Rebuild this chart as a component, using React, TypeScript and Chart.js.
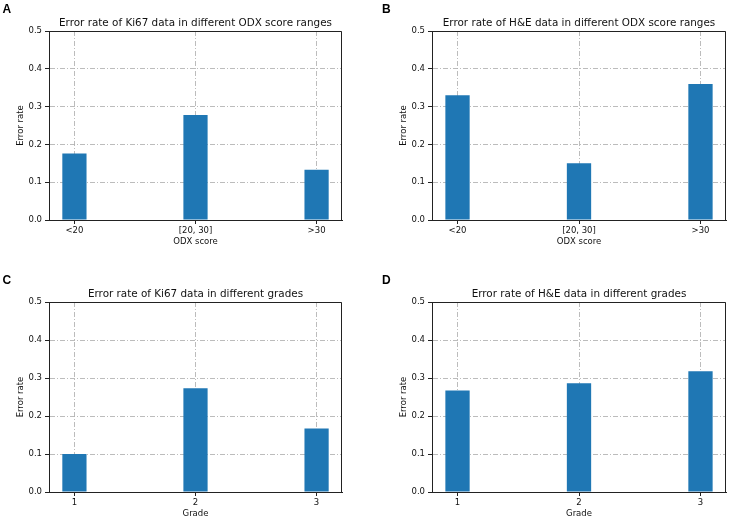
import React, { useEffect, useRef } from "react";
import { Chart, registerables } from "chart.js";

Chart.register(...registerables);

// ---- data ----
const odxCategories = ["<20", "[20, 30]", ">30"];
const gradeCategories = ["1", "2", "3"];
const ki67OdxErrorRates = [0.176, 0.278, 0.133];
const heOdxErrorRates = [0.33, 0.15, 0.36];
const ki67GradeErrorRates = [0.1, 0.273, 0.167];
const heGradeErrorRates = [0.267, 0.286, 0.318];
const yTickValues = [0, 0.1, 0.2, 0.3, 0.4, 0.5];

const FONT = "DejaVu Sans";
const BAR_COLOR = "#1f77b4";
const GRID_COLOR = "rgba(176,176,176,0.85)";
const AXIS_COLOR = "#222";
const TEXT_COLOR = "#111";

type PanelDef = {
  label: string;
  title: string;
  xTitle: string;
  categories: string[];
  values: number[];
  left: number;
  top: number;
  padLeft: number;
  padRight: number;
  padBottom: number;
  padTop: number;
};

const panels: PanelDef[] = [
  { label: "A", title: "Error rate of Ki67 data in different ODX score ranges", xTitle: "ODX score", categories: odxCategories, values: ki67OdxErrorRates, left: 0, top: 0, padLeft: 0, padRight: 23, padBottom: 12, padTop: 31 },
  { label: "B", title: "Error rate of H&E data in different ODX score ranges", xTitle: "ODX score", categories: odxCategories, values: heOdxErrorRates, left: 365, top: 0, padLeft: 18, padRight: 4, padBottom: 12, padTop: 31 },
  { label: "C", title: "Error rate of Ki67 data in different grades", xTitle: "Grade", categories: gradeCategories, values: ki67GradeErrorRates, left: 0, top: 260, padLeft: 0, padRight: 23, padBottom: 0, padTop: 42 },
  { label: "D", title: "Error rate of H&E data in different grades", xTitle: "Grade", categories: gradeCategories, values: heGradeErrorRates, left: 365, top: 260, padLeft: 18, padRight: 4, padBottom: 0, padTop: 42 },
];

const framePlugin = {
  id: "frame",
  afterDraw(chart: any, _args: any, opts: any) {
    const { ctx, chartArea } = chart;
    const t = Math.round(chartArea.top) + 0.5;
    const r = Math.round(chartArea.right) - 0.5;
    const b = Math.round(chartArea.bottom);
    ctx.save();
    ctx.strokeStyle = AXIS_COLOR;
    ctx.lineWidth = 1;
    ctx.beginPath();
    ctx.moveTo(Math.round(chartArea.left), t);
    ctx.lineTo(r, t);
    ctx.lineTo(r, b);
    ctx.stroke();
    // axes title centred over the plot area
    if (opts && opts.text) {
      ctx.fillStyle = TEXT_COLOR;
      ctx.font = `normal 10.4px "${FONT}"`;
      ctx.textAlign = "center";
      ctx.textBaseline = "alphabetic";
      ctx.fillText(opts.text, (chartArea.left + chartArea.right) / 2, chartArea.top - 5.5);
    }
    ctx.restore();
  },
};

function Panel({ p }: { p: PanelDef }) {
  const ref = useRef<HTMLCanvasElement | null>(null);
  useEffect(() => {
    if (!ref.current) return;
    const font = { family: FONT, size: 8.5 };
    const n = p.categories.length;
    const chart = new Chart(ref.current, {
      type: "bar",
      data: {
        datasets: [
          {
            data: p.values.map((v, i) => ({ x: i, y: v })),
            backgroundColor: BAR_COLOR,
            borderWidth: 0,
            barPercentage: 0.2,
            categoryPercentage: 1,
          },
        ],
      },
      options: {
        animation: false,
        responsive: false,
        devicePixelRatio: 1,
        layout: { padding: { left: p.padLeft, right: p.padRight, top: p.padTop, bottom: p.padBottom } },
        plugins: {
          legend: { display: false },
          tooltip: { enabled: false },
          title: { display: false },
          frame: { text: p.title },
        },
        scales: {
          x: {
            type: "linear",
            min: -0.21,
            max: n - 1 + 0.21,
            offset: false,
            z: 1,
            afterBuildTicks: (s: any) => {
              s.ticks = p.categories.map((_, i) => ({ value: i }));
            },
            afterFit: (s: any) => {
              s.height = 28;
            },
            ticks: {
              callback: (v: any) => p.categories[Math.round(v)] ?? "",
              color: TEXT_COLOR,
              font,
              padding: 2,
              maxRotation: 0,
              autoSkip: false,
            },
            grid: { offset: false, color: GRID_COLOR, lineWidth: 1, tickLength: 4, tickColor: AXIS_COLOR, tickWidth: 1, tickBorderDash: [] },
            border: { color: AXIS_COLOR, width: 1, dash: [5, 2, 1, 2] },
            title: { display: true, text: p.xTitle, color: TEXT_COLOR, font, padding: { top: 0, bottom: 1.5 } },
          },
          y: {
            min: 0,
            max: 0.5,
            z: 1,
            afterBuildTicks: (s: any) => {
              s.ticks = yTickValues.map((v) => ({ value: v }));
            },
            afterFit: (s: any) => {
              s.width = 49;
            },
            ticks: {
              callback: (v: any) => Number(v).toFixed(1),
              color: TEXT_COLOR,
              font,
              padding: 3,
            },
            grid: { color: GRID_COLOR, lineWidth: 1, tickLength: 4, tickColor: AXIS_COLOR, tickWidth: 1, tickBorderDash: [] },
            border: { color: AXIS_COLOR, width: 1, dash: [5, 2, 1, 2] },
            title: { display: true, text: "Error rate", color: TEXT_COLOR, font, padding: { top: 16, bottom: 0 } },
          },
        },
      } as any,
      plugins: [framePlugin],
    });
    return () => chart.destroy();
  }, [p]);

  return (
    <>
      <canvas
        ref={ref}
        width={365}
        height={260}
        style={{ position: "absolute", left: p.left, top: p.top, width: 365, height: 260 }}
      />
      <div
        style={{
          position: "absolute",
          left: p.left + (p.padLeft ? 17 : 2.5),
          top: p.top + (p.top ? 14 : 2.5),
          fontFamily: "Liberation Sans, Arial, sans-serif",
          fontWeight: "bold",
          fontSize: 12,
          lineHeight: "12px",
          color: "#000",
        }}
      >
        {p.label}
      </div>
    </>
  );
}

export default function App() {
  return (
    <div
      style={{
        position: "fixed",
        left: 0,
        top: 0,
        width: 730,
        height: 520,
        background: "#fff",
        overflow: "hidden",
      }}
    >
      {panels.map((p) => (
        <Panel key={p.label} p={p} />
      ))}
    </div>
  );
}
